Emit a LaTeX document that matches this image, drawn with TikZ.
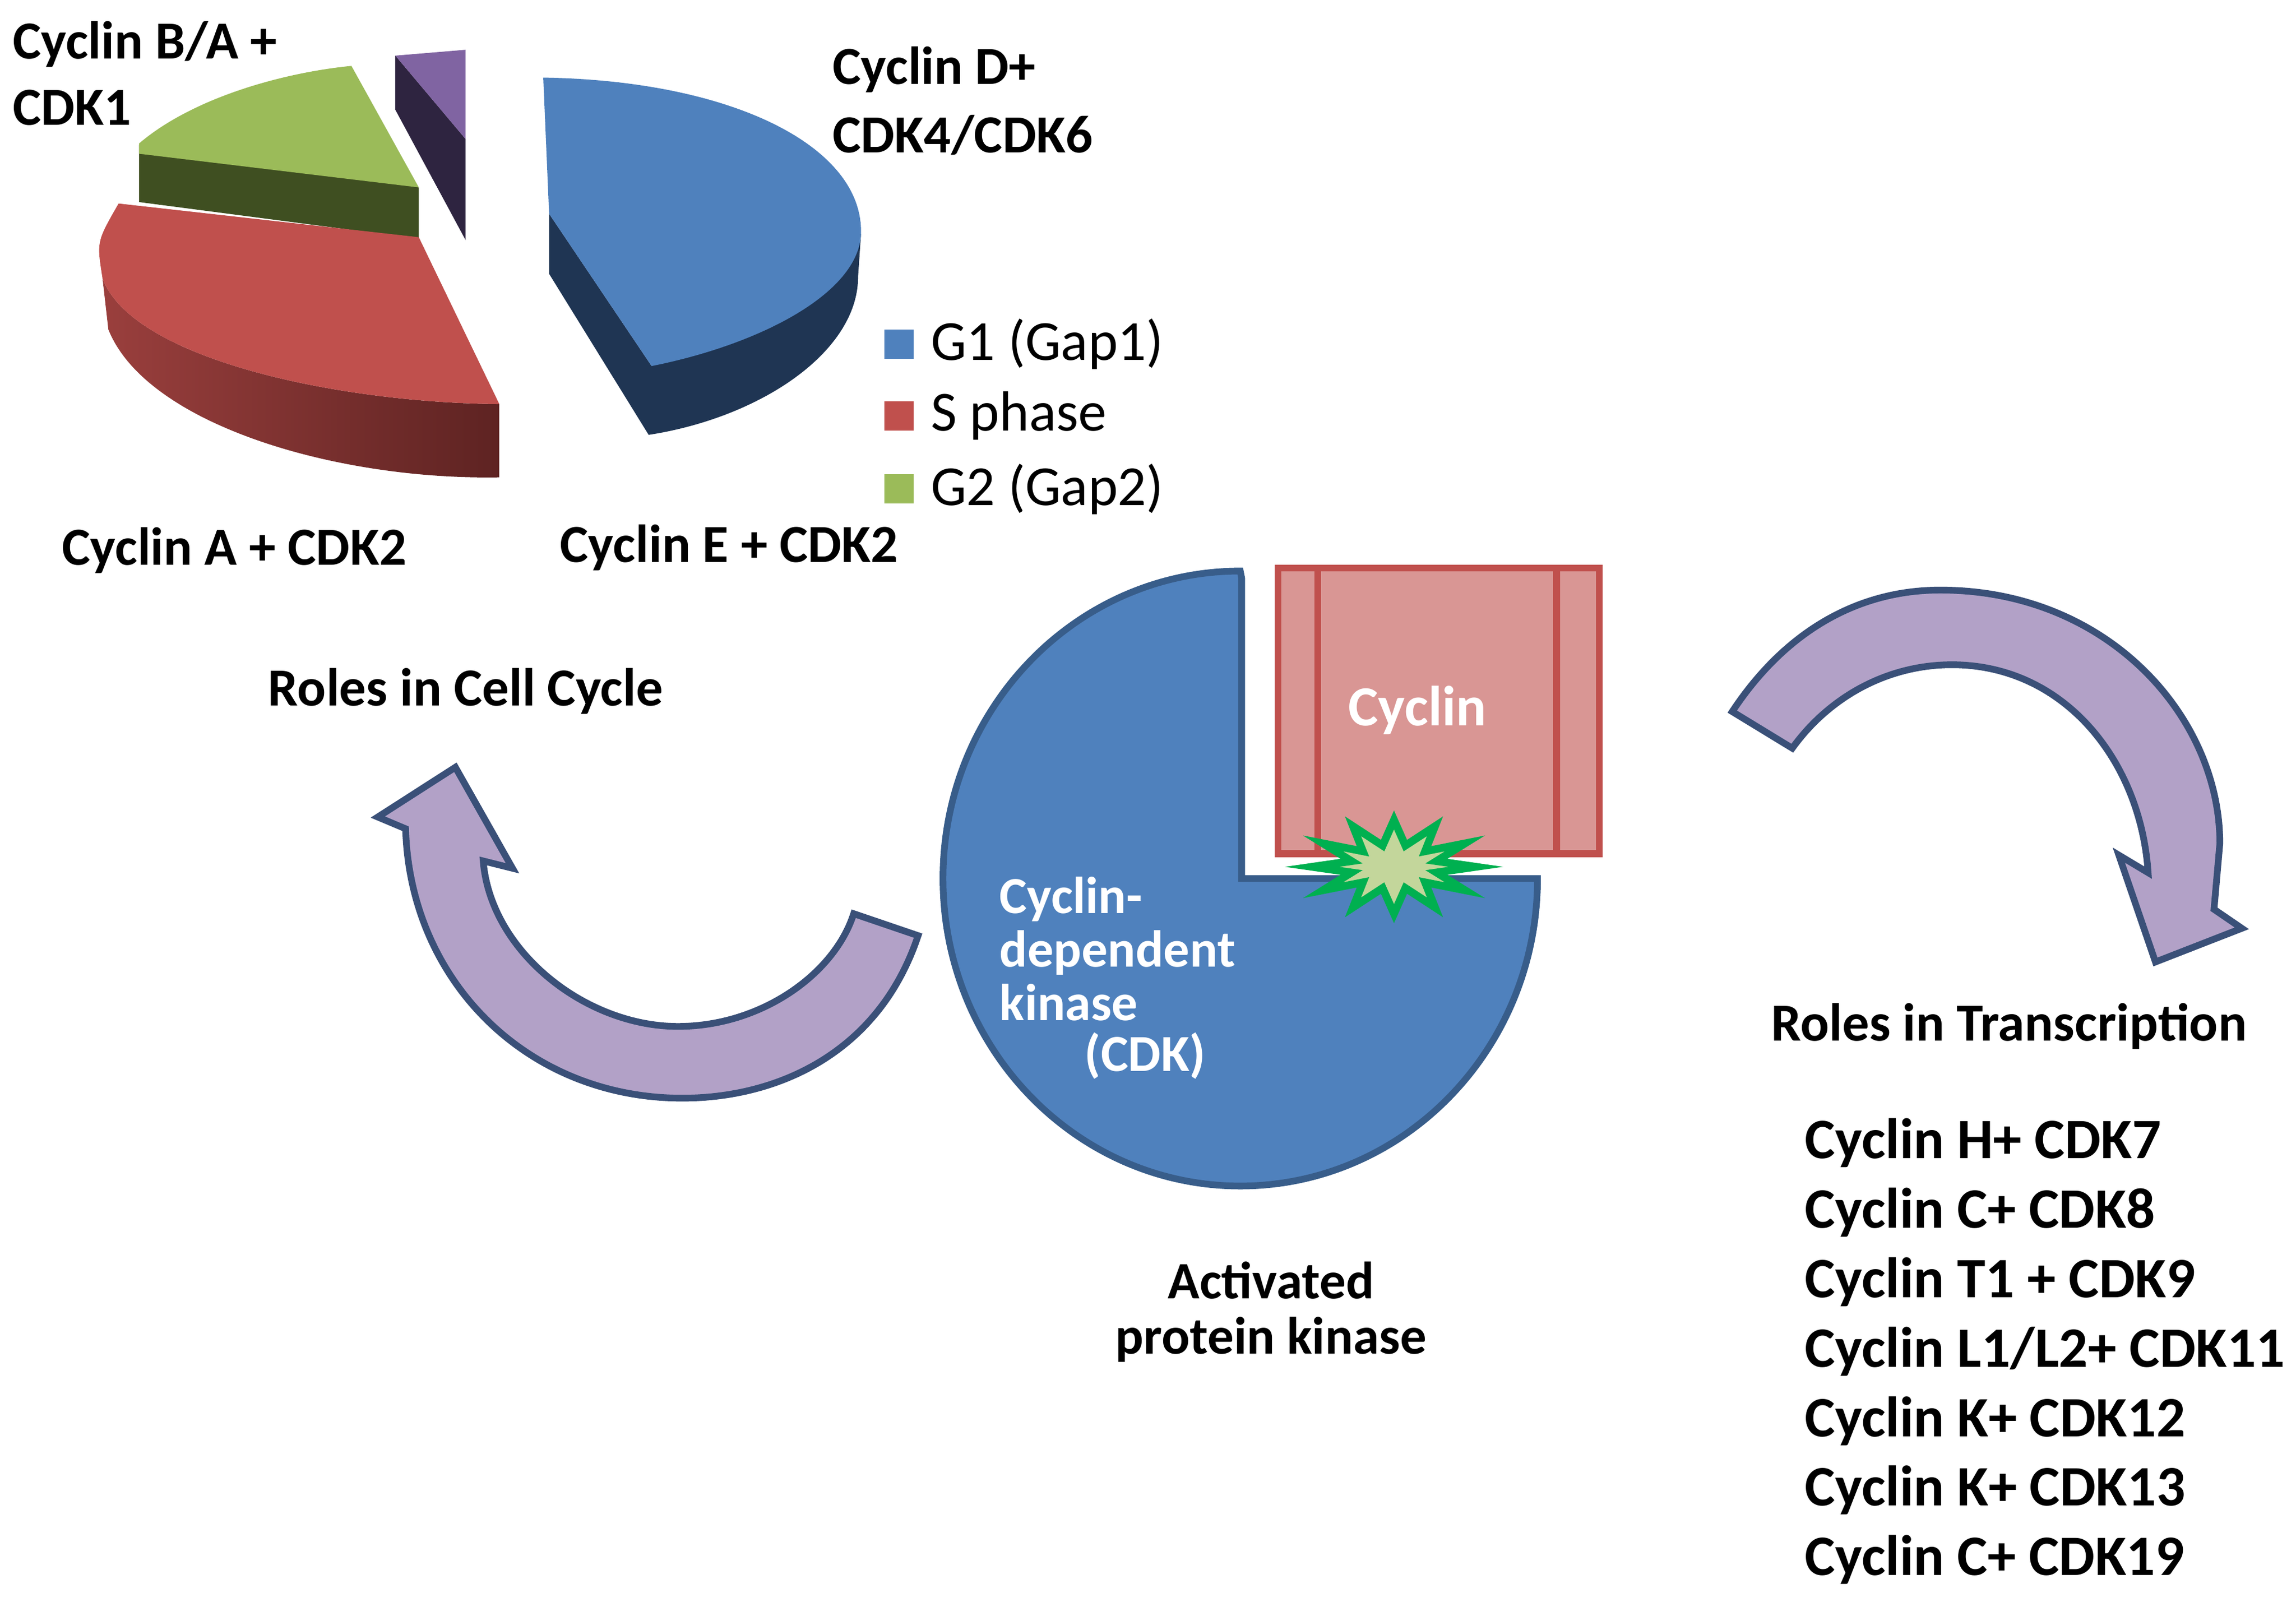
\documentclass[tikz,border=0pt]{standalone}
\usepackage{fontspec}
\setmainfont{Carlito}
\definecolor{pblue}{HTML}{4F81BD}
\definecolor{pblueD}{HTML}{1F3553}
\definecolor{pblueB}{HTML}{385D8A}
\definecolor{pred}{HTML}{C0504D}
\definecolor{predD}{HTML}{9A3F3D}
\definecolor{predE}{HTML}{5E2322}
\definecolor{pgreen}{HTML}{9BBB59}
\definecolor{pgreenD}{HTML}{3F4F21}
\definecolor{ppurple}{HTML}{8064A2}
\definecolor{ppurpleD}{HTML}{2E2440}
\definecolor{cycfill}{HTML}{D99694}
\definecolor{arrfill}{HTML}{B2A1C7}
\definecolor{arrline}{HTML}{3A5078}
\definecolor{starfill}{HTML}{C3D69B}
\definecolor{starline}{HTML}{00B050}
\tikzset{
  lbl/.style={font=\bfseries\fontsize{10.4}{12.8}\selectfont, inner sep=0pt, align=left},
  leg/.style={font=\fontsize{11}{12}\selectfont, inner sep=0pt, anchor=west},
  legbox/.style={minimum size=0.2cm, inner sep=0pt},
  wtxt/.style={font=\bfseries\fontsize{10}{10.4}\selectfont, text=white, inner sep=0pt, align=left},
  bigarrow/.style={fill=arrfill, draw=arrline, line width=1.3pt, line join=miter},
}
\begin{document}
\begin{tikzpicture}[x=0.01cm,y=-0.01cm]
\useasboundingbox (0,0) rectangle (1568,1094);
% ---- pie: purple
\fill[ppurpleD] (270,38)--(318,95)--(318,164)--(270,75)--cycle;
\fill[ppurple] (270,38)--(318,34)--(318,95)--cycle;
% green
\fill[pgreenD] (95,99)--(95,138)--(286,163)--(286,128)--cycle;
\fill[pgreen] (95,105)--(95,98) .. controls (130,68) and (190,50) .. (240,45)--(286,128)--cycle;
% red
\shade[left color=predD, right color=predE] (70,190) -- (74,225) .. controls (100,290) and (230,328) .. (341,326) -- (341,276) .. controls (230,275) and (90,245) .. (70,190) -- cycle;
\fill[pred] (81,139)--(286,162)--(341,276) .. controls (230,275) and (90,245) .. (70,190) .. controls (66,165) .. (81,139) -- cycle;
% blue
\fill[pblueD] (375,146)--(375,187)--(443,297) .. controls (520,285) and (586,240) .. (586,189) -- (588,160) -- (445,250) -- cycle;
\fill[pblue] (371,53) .. controls (500,55) and (590,100) .. (588,160) .. controls (586,200) and (520,235) .. (445,250) -- (375,146) -- cycle;
% pie labels
\node[lbl, anchor=west] (lBA) at (8,50) {Cyclin B/A +\\CDK1};
\node[lbl, anchor=west, font=\bfseries\fontsize{10.4}{13.3}\selectfont] (lD) at (568,69) {Cyclin D+\\CDK4/CDK6};
\node[lbl] (lA) at (160,376) {Cyclin A + CDK2};
\node[lbl] (lE) at (498,374) {Cyclin E + CDK2};
% legend
\node[legbox, fill=pblue] (k1) at (614,235) {};
\node[legbox, fill=pred] (k2) at (614,284) {};
\node[legbox, fill=pgreen] (k3) at (614,334) {};
\node[leg] (t1) at (635,235) {G1 (Gap1)};
\node[leg] (t2) at (635,284) {S phase};
\node[leg] (t3) at (635,334) {G2 (Gap2)};
% ---- CDK pacman
\filldraw[fill=pblue, draw=pblueB, line width=1.3pt] (848,395) -- (848,600) -- (1050,600) arc[start angle=0, end angle=-270, x radius=203, y radius=-210] -- cycle;
% cyclin box
\node[draw=pred, fill=cycfill, line width=1.3pt, minimum width=2.19cm, minimum height=1.95cm, inner sep=0pt] (cyc) at (982.5,485.5) {};
\draw[pred, line width=1.3pt] (900,388)--(900,583) (1063,388)--(1063,583);
\node[wtxt, font=\bfseries\fontsize{11}{12}\selectfont] (cyct) at (968,485) {Cyclin};
\coordinate (star) at (952,592);
\filldraw[fill=starfill, draw=starline, line width=1.5pt, line join=miter, shift={(star)}]
  plot[samples at={0,15,...,345}] ({(mod(\x,30)==0 ? 56 : 30)*cos(\x)}, {(mod(\x,30)==0 ? 32 : 15)*sin(\x)}) -- cycle;
\node[wtxt, anchor=west, font=\bfseries\fontsize{10.1}{10.4}\selectfont] (cdk) at (682,648) {Cyclin-\\dependent\\kinase};
\node[wtxt, anchor=west, font=\bfseries\fontsize{10.1}{10.4}\selectfont] (cdk2) at (740,721) {(CDK)};
\node[lbl, align=center, font=\bfseries\fontsize{10.2}{10.8}\selectfont] (act) at (868,896) {Activated\\protein kinase};
% ---- arrows
\draw[bigarrow] (627,639) .. controls (600,720) and (530,750) .. (466,750) .. controls (360,750) and (280,670) .. (277,566) -- (258,558) -- (311,524) -- (350,593) -- (330,588) .. controls (335,650) and (400,701) .. (463,701) .. controls (520,701) and (570,665) .. (583,624) -- cycle;
\draw[bigarrow] (1183,486) .. controls (1220,430) and (1270,403) .. (1325,403) .. controls (1440,403) and (1516,490) .. (1516,576) -- (1512,621) -- (1531,634) -- (1472,657) -- (1447,584) -- (1467,596) .. controls (1462,520) and (1410,454) .. (1333,454) .. controls (1290,454) and (1250,475) .. (1224,511) -- cycle;
\node[lbl] (rcc) at (318,472) {Roles in Cell Cycle};
\node[lbl] (rtr) at (1372,701) {Roles in Transcription};
\node[lbl, anchor=north west, font=\bfseries\fontsize{11.1}{13.5}\selectfont] (list) at (1232,763) {Cyclin H+ CDK7\\Cyclin C+ CDK8\\Cyclin T1 + CDK9\\Cyclin L1/L2+ CDK11\\Cyclin K+ CDK12\\Cyclin K+ CDK13\\Cyclin C+ CDK19};
\end{tikzpicture}
\end{document}
